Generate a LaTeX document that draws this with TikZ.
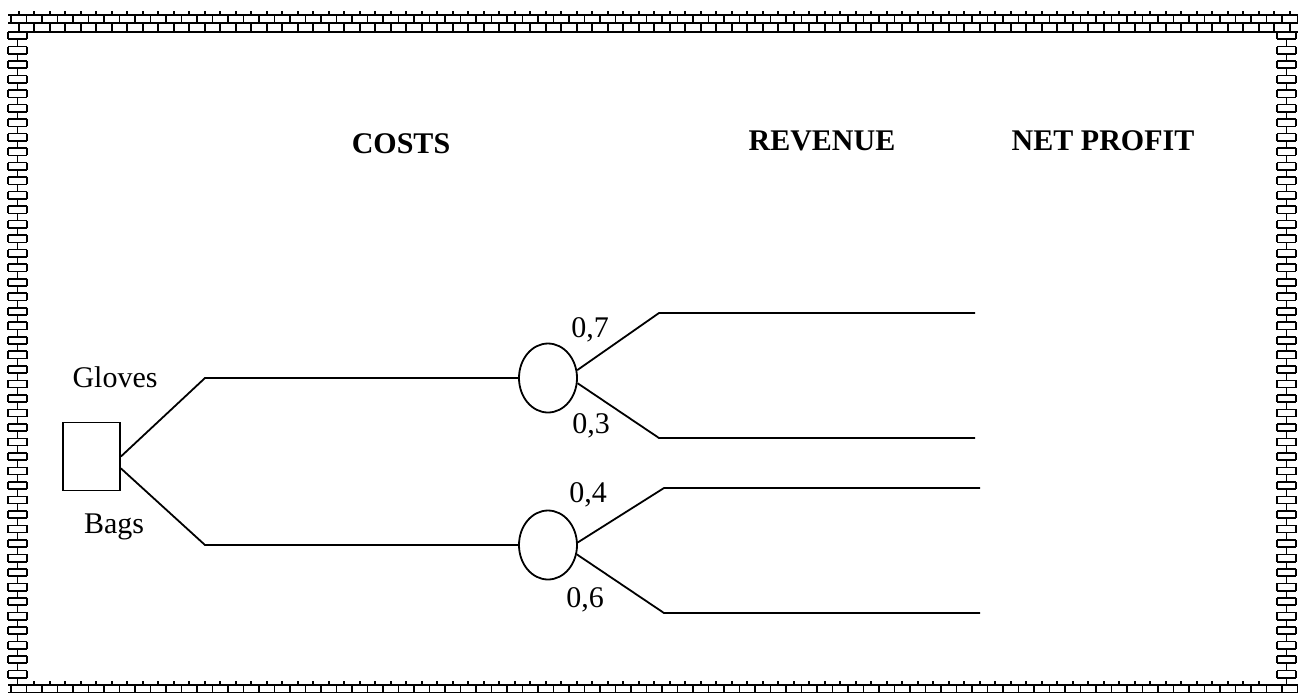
\documentclass[tikz,border=0pt]{standalone}
\usepackage{fontspec}
\setmainfont{Liberation Serif}
\usetikzlibrary{shapes.geometric}

\begin{document}
\begin{tikzpicture}[x=0.5pt,y=-0.5pt,line width=0.9pt,
    chance node/.style={ellipse,draw,minimum width=29pt,minimum height=34.5pt,inner sep=0pt},
    decision node/.style={rectangle,draw,minimum width=28.5pt,minimum height=34pt,inner sep=0pt},
    label text/.style={font=\fontsize{15}{18}\selectfont,anchor=base,inner sep=0pt},
    head text/.style={font=\fontsize{15}{18}\selectfont\bfseries,anchor=base,inner sep=0pt},
    brick/.style={line width=0.8pt}]

    \useasboundingbox (0,0) rectangle (1298,693);

    % brick border
    \draw[brick] (8,15) -- (1298,15) (8,23) -- (1298,23) (8,32) -- (1298,32);
    \draw[brick] (8,685) -- (1298,685) (8,692.5) -- (1298,692.5);
    \foreach \k in {0,...,83}
    {
        \draw[brick] ({11+15.5*\k},15) -- ({11+15.5*\k},23);
        \draw[brick] ({18.75+15.5*\k},11) -- ({18.75+15.5*\k},15) ({18.75+15.5*\k},23) -- ({18.75+15.5*\k},32);
        \draw[brick] ({11+15.5*\k},685) -- ({11+15.5*\k},693);
    }
    \foreach \k in {1,...,80}
        \draw[brick] ({18.75+15.5*\k},681) -- ({18.75+15.5*\k},685);
    \foreach \x in {8,1277}
    {
        \foreach \r in {0,2,...,88}
            \draw[brick] (\x,{32+7.256*\r}) -- (\x,{32+7.256*(\r+1)}) ({\x+19},{32+7.256*\r}) -- ({\x+19},{32+7.256*(\r+1)});
        \foreach \r in {1,3,...,89}
            \draw[brick] ({\x+9.5},{32+7.256*\r}) -- ({\x+9.5},{32+7.256*(\r+1)});
        \foreach \r in {1,...,89}
            \draw[brick] (\x,{32+7.256*\r}) -- ({\x+19},{32+7.256*\r});
    }

    % headings
    \node[head text] (costs) at (401,153) {COSTS};
    \node[head text] (revenue) at (822,150) {REVENUE};
    \node[head text] (profit) at (1103,150) {NET PROFIT};

    % tree
    \node[decision node] (sq) at (91.5,456.5) {};
    \node[chance node] (c1) at (548,378) {};
    \node[chance node] (c2) at (548,545) {};

    \coordinate (gk) at (205,378);
    \coordinate (bk) at (205,545);
    \coordinate (k1) at (659,313);
    \coordinate (e1) at (975,313);
    \coordinate (k2) at (659,438);
    \coordinate (e2) at (975,438);
    \coordinate (k3) at (664,488);
    \coordinate (e3) at (980,488);
    \coordinate (k4) at (664,613);
    \coordinate (e4) at (980,613);

    \draw (sq.east) -- (gk) -- (c1.west);
    \draw (sq.-22) -- (bk) -- (c2.west);
    \draw (c1.15) -- (k1) -- (e1);
    \draw (c1.-10) -- (k2) -- (e2);
    \draw (c2.5) -- (k3) -- (e3);
    \draw (c2.-18) -- (k4) -- (e4);

    \node[label text] (gloves) at (115,387) {Gloves};
    \node[label text] (bags) at (114,533) {Bags};
    \node[label text] (p7) at (590,337) {0,7};
    \node[label text] (p3) at (591,433) {0,3};
    \node[label text] (p4) at (588,502) {0,4};
    \node[label text] (p6) at (585,607) {0,6};
\end{tikzpicture}
\end{document}
